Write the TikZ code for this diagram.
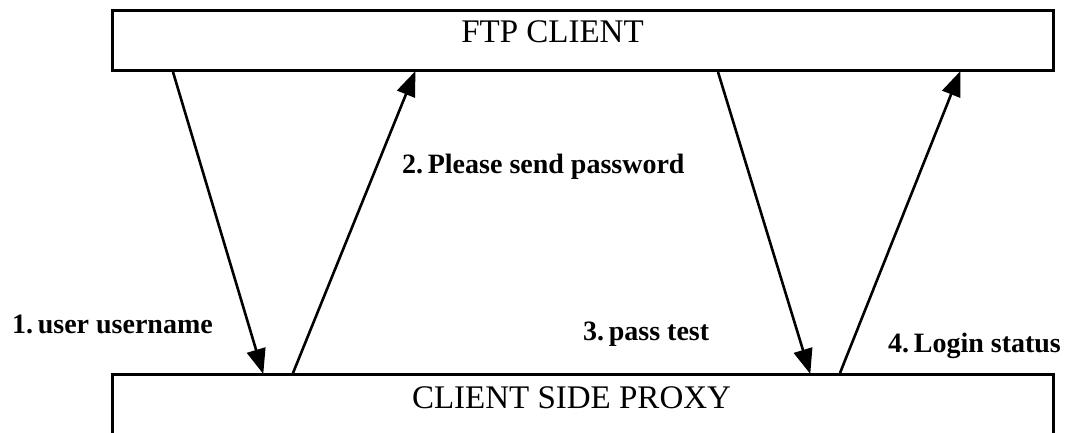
\documentclass[tikz,border=0pt]{standalone}
\usepackage{fontspec}
\setmainfont{Liberation Serif}
\usetikzlibrary{arrows.meta,calc}
\begin{document}
\begin{tikzpicture}[x=1pt,y=-1pt,
  box/.style={draw=black,line width=3pt,fill=white,inner sep=0pt,anchor=north west,minimum width=941pt},
  title/.style={font=\fontsize{33}{33}\selectfont,anchor=base,inner sep=0pt},
  lbl/.style={font=\bfseries\fontsize{28}{28}\selectfont,anchor=base west,inner sep=0pt},
  arr/.style={line width=2.6pt,-{Triangle[length=25pt,width=19pt]},shorten >=-1pt}]
\useasboundingbox (0,0) rectangle (1079,433);
\clip (0,0) rectangle (1079,433);
\node[box,minimum height=60pt] (client) at (111,9) {};
\node[box,minimum height=80pt] (proxy) at (111,373) {};
\node[title] (clienttext) at (552.5,43) {FTP CLIENT};
\node[title] (proxytext) at (571.5,408) {CLIENT SIDE PROXY};
\coordinate (a1) at ($(client.south west)+(62,0)$);
\coordinate (b1) at ($(proxy.north west)+(152,0)$);
\coordinate (a2) at ($(proxy.north west)+(182,0)$);
\coordinate (b2) at ($(client.south west)+(304,0)$);
\coordinate (a3) at ($(client.south west)+(607,0)$);
\coordinate (b3) at ($(proxy.north west)+(699,0)$);
\coordinate (a4) at ($(proxy.north west)+(729,0)$);
\coordinate (b4) at ($(client.south west)+(849,0)$);
\draw[arr] (a1) -- (b1);
\draw[arr] (a2) -- (b2);
\draw[arr] (a3) -- (b3);
\draw[arr] (a4) -- (b4);
\node[lbl] (l1) at (12,333) {1.\,user username};
\node[lbl] (l2) at (402,173) {2.\,Please send password};
\node[lbl] (l3) at (583,340) {3.\,pass test};
\node[lbl] (l4) at (888,352) {4.\,Login status};
\end{tikzpicture}
\end{document}
